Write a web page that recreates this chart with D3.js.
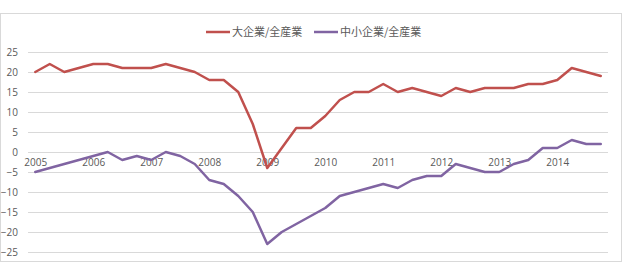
<!DOCTYPE html>
<html>
<head>
<meta charset="utf-8">
<script src="https://d3js.org/d3.v7.min.js"></script>
<style>
  body { margin: 0; background: #ffffff; }
  text { font-family: "Open Sans", "Noto Sans CJK JP", sans-serif; }
</style>
</head>
<body>
<svg id="drawing_region"></svg>
<script>
// quarterly, 2005Q1 - 2014Q4
const years = [2005, 2006, 2007, 2008, 2009, 2010, 2011, 2012, 2013, 2014];
const quarters = years.flatMap(y => [1, 2, 3, 4].map(q => `${y}Q${q}`));
const series_names = ["大企業/全産業", "中小企業/全産業"];
const large = [20, 22, 20, 21, 22, 22, 21, 21, 21, 22, 21, 20, 18, 18, 15, 7, -4, 1, 6, 6,
               9, 13, 15, 15, 17, 15, 16, 15, 14, 16, 15, 16, 16, 16, 17, 17, 18, 21, 20, 19];
const small = [-5, -4, -3, -2, -1, 0, -2, -1, -2, 0, -1, -3, -7, -8, -11, -15, -23, -20, -18, -16,
               -14, -11, -10, -9, -8, -9, -7, -6, -6, -3, -4, -5, -5, -3, -2, 1, 1, 3, 2, 2];
const y_ticks = [25, 20, 15, 10, 5, 0, -5, -10, -15, -20, -25];
const colors = ["#c0504d", "#8064a2"];

class LineChart {

    constructor( config ) {
        this.config = config;
        this.init();
    }

    init() {
        let self = this;

        self.svg = d3.select( self.config.parent )
            .attr('width', self.config.width)
            .attr('height', self.config.height);

        // chart area frame
        self.svg.append('rect')
            .attr('x', 0.5)
            .attr('y', 13.5)
            .attr('width', 621)
            .attr('height', 248)
            .attr('fill', '#ffffff')
            .attr('stroke', '#d9d9d9');

        self.chart = self.svg.append('g')
            .attr('transform', `translate(${self.config.margin.left}, ${self.config.margin.top})`);

        self.inner_width = self.config.width - self.config.margin.left - self.config.margin.right;
        self.inner_height = self.config.height - self.config.margin.top - self.config.margin.bottom;

        self.xscale = d3.scalePoint()
            .range([0, self.inner_width])
            .padding(0.5);

        self.yscale = d3.scaleLinear()
            .range([self.inner_height, 0]);

        self.yaxis = d3.axisLeft( self.yscale )
            .tickValues( y_ticks )
            .tickSize( -self.inner_width )
            .tickPadding( 10 );

        self.xaxis = d3.axisBottom( self.xscale )
            .tickSize(0)
            .tickPadding(7);

        self.yaxis_group = self.chart.append('g');
        self.xaxis_group = self.chart.append('g');
        self.legend_group = self.svg.append('g');
    }

    update() {
        let self = this;
        self.xscale.domain( quarters );
        self.yscale.domain( [-25, 25] );
        self.xaxis.tickValues( years.map(y => `${y}Q1`) )
            .tickFormat( d => d.slice(0, 4) );
        self.render();
    }

    render() {
        let self = this;

        self.yaxis_group.call( self.yaxis );
        self.yaxis_group.select('.domain').remove();
        self.yaxis_group.selectAll('line')
            .attr('stroke', '#d9d9d9');
        self.yaxis_group.selectAll('text')
            .attr('fill', '#595959')
            .style('font-size', '10px');

        self.xaxis_group
            .attr('transform', `translate(0, ${self.yscale(0)})`)
            .call( self.xaxis );
        self.xaxis_group.select('.domain').remove();
        self.xaxis_group.selectAll('text')
            .attr('fill', '#595959')
            .style('font-size', '10px');

        const line = d3.line()
            .x( (d, i) => self.xscale(quarters[i]) )
            .y( d => self.yscale(d) );

        self.chart.selectAll('path.series')
            .data([large, small])
            .enter()
            .append('path')
            .attr('class', 'series')
            .attr('d', line)
            .attr('fill', 'none')
            .attr('stroke', (d, i) => colors[i])
            .attr('stroke-width', 2.5)
            .attr('stroke-linejoin', 'round')
            .attr('stroke-linecap', 'round');

        // legend
        const lx = [206, 314];
        const item = self.legend_group.selectAll('g')
            .data(series_names)
            .enter()
            .append('g')
            .attr('transform', (d, i) => `translate(${lx[i]}, 32)`);
        item.append('line')
            .attr('x1', 0).attr('x2', 24)
            .attr('stroke', (d, i) => colors[i])
            .attr('stroke-width', 2.5);
        item.append('text')
            .attr('x', 26)
            .attr('dy', '0.35em')
            .attr('fill', '#595959')
            .style('font-size', '11px')
            .style('font-family', '"Noto Sans CJK JP", sans-serif')
            .text(d => d);
    }
}

const config = {
    parent: '#drawing_region',
    width: 625,
    height: 264,
    margin: {top: 52, right: 17, bottom: 12, left: 28}
};

const line_chart = new LineChart( config );
line_chart.update();
</script>
</body>
</html>
